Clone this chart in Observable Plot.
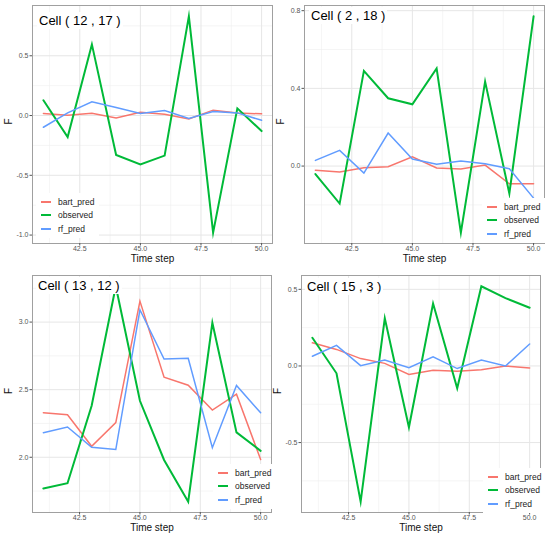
<!DOCTYPE html>
<html><head><meta charset="utf-8">
<script src="https://cdn.jsdelivr.net/npm/d3@7"></script>
<script src="https://cdn.jsdelivr.net/npm/@observablehq/plot@0.6"></script>
<style>
body{margin:0;background:#fff;font-family:"Liberation Sans",Arial,sans-serif;}
#wrap{position:relative;width:550px;height:540px;overflow:hidden;}
.panel{position:absolute;width:275px;height:270px;}
.title{position:absolute;background:#fff;font-size:13px;color:#000;padding:1px 2px;line-height:15px;white-space:pre;}
.legend{position:absolute;background:#fff;font-size:8.5px;color:#222;padding:2px 5px;}
.legend .row{display:flex;align-items:center;height:13.5px;}
.legend .key{width:10px;height:1.6px;margin-right:7px;}
</style></head><body><div id="wrap"></div>
<script>
// ---- data ----
const timeSteps = [41, 42, 43, 44, 45, 46, 47, 48, 49, 50];
const seriesNames = ["bart_pred", "observed", "rf_pred"];
const seriesColors = ["#F8766D", "#00BA38", "#619CFF"];
const xTicks = [42.5, 45, 47.5, 50];

const cell1Title = "Cell ( 12 , 17 )";
const cell1Bart = [0.017, 0.003, 0.020, -0.020, 0.028, 0.011, -0.028, 0.045, 0.022, 0.014];
const cell1Obs  = [0.128, -0.180, 0.595, -0.330, -0.410, -0.335, 0.830, -0.980, 0.060, -0.130];
const cell1Rf   = [-0.098, 0.022, 0.115, 0.067, 0.017, 0.042, -0.025, 0.034, 0.022, -0.040];
const cell1YTicks = [-1.0, -0.5, 0.0, 0.5];

const cell2Title = "Cell ( 2 , 18 )";
const cell2Bart = [-0.021, -0.031, -0.009, -0.003, 0.048, -0.010, -0.015, 0.005, -0.091, -0.091];
const cell2Obs  = [-0.041, -0.193, 0.490, 0.349, 0.318, 0.503, -0.343, 0.435, -0.141, 0.771];
const cell2Rf   = [0.029, 0.081, -0.036, 0.170, 0.036, 0.009, 0.026, 0.012, -0.014, -0.165];
const cell2YTicks = [0.0, 0.4, 0.8];

const cell3Title = "Cell ( 13 , 12 )";
const cell3Bart = [2.329, 2.314, 2.081, 2.256, 3.155, 2.592, 2.533, 2.349, 2.467, 1.983];
const cell3Obs  = [1.769, 1.808, 2.381, 3.265, 2.418, 1.980, 1.671, 2.995, 2.184, 2.047];
const cell3Rf   = [2.182, 2.224, 2.074, 2.057, 3.091, 2.727, 2.732, 2.071, 2.531, 2.329];
const cell3YTicks = [2.0, 2.5, 3.0];

const cell4Title = "Cell ( 15 , 3 )";
const cell4Bart = [0.151, 0.108, 0.048, 0.017, -0.056, -0.028, -0.035, -0.024, 0.000, -0.013];
const cell4Obs  = [0.184, -0.048, -0.886, 0.311, -0.400, 0.408, -0.145, 0.520, 0.443, 0.380];
const cell4Rf   = [0.063, 0.134, 0.002, 0.039, -0.011, 0.060, -0.017, 0.039, 0.000, 0.143];
const cell4YTicks = [-0.5, 0.0, 0.5];

// ---- layout ----
const panels = [
  {left: 0,   top: 0,   title: cell1Title, values: [cell1Bart, cell1Obs, cell1Rf], yTicks: cell1YTicks,
   m: [5, 3, 27, 32], titlePos: [37, 12], legendPos: [36, 193]},
  {left: 275, top: 0,   title: cell2Title, values: [cell2Bart, cell2Obs, cell2Rf], yTicks: cell2YTicks,
   m: [5, 6, 27, 29], titlePos: [34, 7], legendPos: [207, 198]},
  {left: 0,   top: 270, title: cell3Title, values: [cell3Bart, cell3Obs, cell3Rf], yTicks: cell3YTicks,
   m: [5, 4, 28, 32], titlePos: [36, 7], legendPos: [213, 194]},
  {left: 275, top: 270, title: cell4Title, values: [cell4Bart, cell4Obs, cell4Rf], yTicks: cell4YTicks,
   m: [5, 10, 28, 26], titlePos: [30, 8], legendPos: [208, 198]}
];

function minorOf(ticks, domain) {
  const step = ticks[1] - ticks[0];
  const ext = [ticks[0] - step, ...ticks, ticks[ticks.length - 1] + step];
  const out = [];
  for (let i = 0; i < ext.length - 1; i++) out.push((ext[i] + ext[i + 1]) / 2);
  return out.filter(v => v >= domain[0] && v <= domain[1]);
}

const wrap = document.getElementById("wrap");
const fmt = d => d.toFixed(1);

panels.forEach(p => {
  const [xmin, xmax] = d3.extent(timeSteps);
  const xpad = (xmax - xmin) * 0.05;
  const xDomain = [xmin - xpad, xmax + xpad];
  const all = p.values.flat();
  const lo = d3.min(all), hi = d3.max(all), pad = (hi - lo) * 0.05;
  const yDomain = [lo - pad, hi + pad];

  const lines = seriesNames.map((s, i) =>
    Plot.line(timeSteps.map((t, j) => ({t, v: p.values[i][j]})),
      {x: "t", y: "v", stroke: seriesColors[i], strokeWidth: s === "observed" ? 2 : 1.5, strokeLinejoin: "miter", strokeMiterlimit: 10}));

  const chart = Plot.plot({
    width: 275, height: 270,
    marginTop: p.m[0], marginRight: p.m[1], marginBottom: p.m[2], marginLeft: p.m[3],
    style: {fontFamily: "'Liberation Sans', Arial, sans-serif", background: "white", overflow: "visible"},
    x: {domain: xDomain, label: null},
    y: {domain: yDomain, label: null},
    marks: [
      Plot.gridX(minorOf(xTicks, xDomain), {stroke: "#EFEFEF", strokeOpacity: 1, strokeWidth: 0.6}),
      Plot.gridY(minorOf(p.yTicks, yDomain), {stroke: "#EFEFEF", strokeOpacity: 1, strokeWidth: 0.6}),
      Plot.gridX(xTicks, {stroke: "#E6E6E6", strokeOpacity: 1, strokeWidth: 1}),
      Plot.gridY(p.yTicks, {stroke: "#E6E6E6", strokeOpacity: 1, strokeWidth: 1}),
      ...lines,
      Plot.frame({stroke: "#A0A0A0", strokeWidth: 1}),
      Plot.axisX(xTicks, {tickFormat: fmt, tickSize: 2.5, tickPadding: 0.5, fontSize: 7, color: "#555", label: null}),
      Plot.axisY(p.yTicks, {tickFormat: fmt, tickSize: 2.5, tickPadding: 1.5, fontSize: 7, color: "#555", label: null}),
      Plot.text(["Time step"], {frameAnchor: "bottom", dy: 18, text: d => d, fontSize: 10, fill: "#111"}),
      Plot.text(["F"], {frameAnchor: "left", dx: -24, rotate: -90, text: d => d, fontSize: 10, fill: "#111"})
    ]
  });

  const div = document.createElement("div");
  div.className = "panel";
  div.style.left = p.left + "px";
  div.style.top = p.top + "px";
  div.appendChild(chart);

  const t = document.createElement("div");
  t.className = "title";
  t.style.left = p.titlePos[0] + "px";
  t.style.top = p.titlePos[1] + "px";
  t.textContent = p.title;
  div.appendChild(t);

  const lg = document.createElement("div");
  lg.className = "legend";
  lg.style.left = p.legendPos[0] + "px";
  lg.style.top = p.legendPos[1] + "px";
  seriesNames.forEach((s, i) => {
    const r = document.createElement("div");
    r.className = "row";
    const k = document.createElement("div");
    k.className = "key";
    k.style.background = seriesColors[i];
    if (s === "observed") k.style.height = "2px";
    const tx = document.createElement("span");
    tx.textContent = s;
    r.appendChild(k); r.appendChild(tx);
    lg.appendChild(r);
  });
  div.appendChild(lg);
  wrap.appendChild(div);
});
</script></body></html>
